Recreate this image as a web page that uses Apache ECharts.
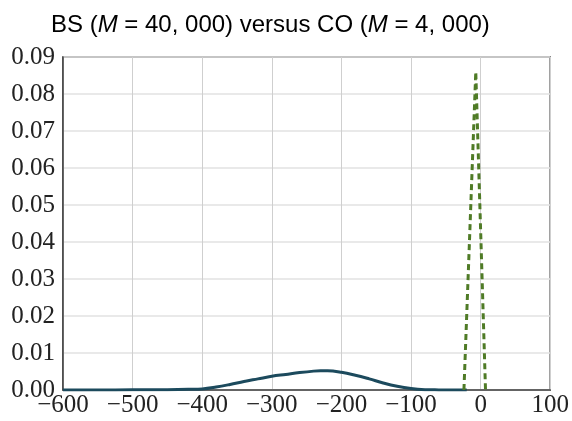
<!DOCTYPE html>
<html>
<head>
<meta charset="utf-8">
<script src="https://cdn.jsdelivr.net/npm/echarts@6/dist/echarts.min.js"></script>
<style>
  html, body { margin: 0; padding: 0; background: #fff; }
  #chart { width: 572px; height: 421px; }
</style>
</head>
<body>
<div id="chart"></div>
<script>
// BS density (solid)
const bsX = [-600, -550, -500, -450, -420, -400, -380, -360, -340, -320, -300, -280, -260, -240, -230, -220, -200, -180, -160, -140, -120, -100, -80, -60, -40, -20]
const bsY = [0, 0.00002, 0.00005, 0.0001, 0.0002, 0.0003, 0.0008, 0.0015, 0.0023, 0.0030, 0.0037, 0.0042, 0.0047, 0.0051, 0.0052, 0.0052, 0.0048, 0.0040, 0.0030, 0.0019, 0.0010, 0.0004, 0.0001, 0.00003, 0.00001, 0]
// CO density (dashed)
const coX = [-24, -7, 7]
const coY = [0, 0.086, 0]

const xTicks = { min: -600, max: 100, step: 100 }
const yTicks = { min: 0, max: 0.09, step: 0.01 }

const chart = echarts.init(document.getElementById('chart'))

const option = {
  animation: false,
  title: {
    text: 'BS ({i|M} = 40, 000) versus CO ({i|M} = 4, 000)',
    left: 46,
    top: 8,
    textStyle: {
      fontFamily: 'Liberation Sans',
      fontSize: 24,
      fontWeight: 'normal',
      color: '#000',
      rich: {
        i: { fontFamily: 'Liberation Sans', fontSize: 24, fontStyle: 'italic', color: '#000' }
      }
    }
  },
  grid: {
    left: 63,
    right: 21,
    top: 57,
    bottom: 31,
    show: true,
    borderColor: '#444',
    borderWidth: 1.5
  },
  xAxis: {
    type: 'value',
    min: xTicks.min,
    max: xTicks.max,
    interval: xTicks.step,
    axisLine: { show: true, onZero: false, lineStyle: { color: '#444', width: 1.5 } },
    axisTick: { show: false },
    splitLine: { show: true, lineStyle: { color: '#cfcfcf', width: 1 } },
    axisLabel: {
      margin: 3,
      fontFamily: 'Liberation Serif',
      fontSize: 25,
      color: '#222',
      formatter: v => String(v).replace('-', '\u2212')
    }
  },
  yAxis: {
    type: 'value',
    min: yTicks.min,
    max: yTicks.max,
    interval: yTicks.step,
    axisLine: { show: true, onZero: false, lineStyle: { color: '#444', width: 1.5 } },
    axisTick: { show: false },
    splitLine: { show: true, lineStyle: { color: '#e2e2e2', width: 1.5 } },
    axisLabel: {
      margin: 8,
      fontFamily: 'Liberation Serif',
      fontSize: 25,
      color: '#222',
      formatter: v => v.toFixed(2)
    }
  },
  series: [
    {
      type: 'line',
      data: bsX.map((x, i) => [x, bsY[i]]),
      smooth: 0.4,
      showSymbol: false,
      lineStyle: { color: '#1c4a5d', width: 3 }
    },
    {
      type: 'line',
      data: coX.map((x, i) => [x, coY[i]]),
      showSymbol: false,
      lineStyle: { color: '#4f7b26', width: 3, type: [6, 4] }
    }
  ]
}

chart.setOption(option)
</script>
</body>
</html>
